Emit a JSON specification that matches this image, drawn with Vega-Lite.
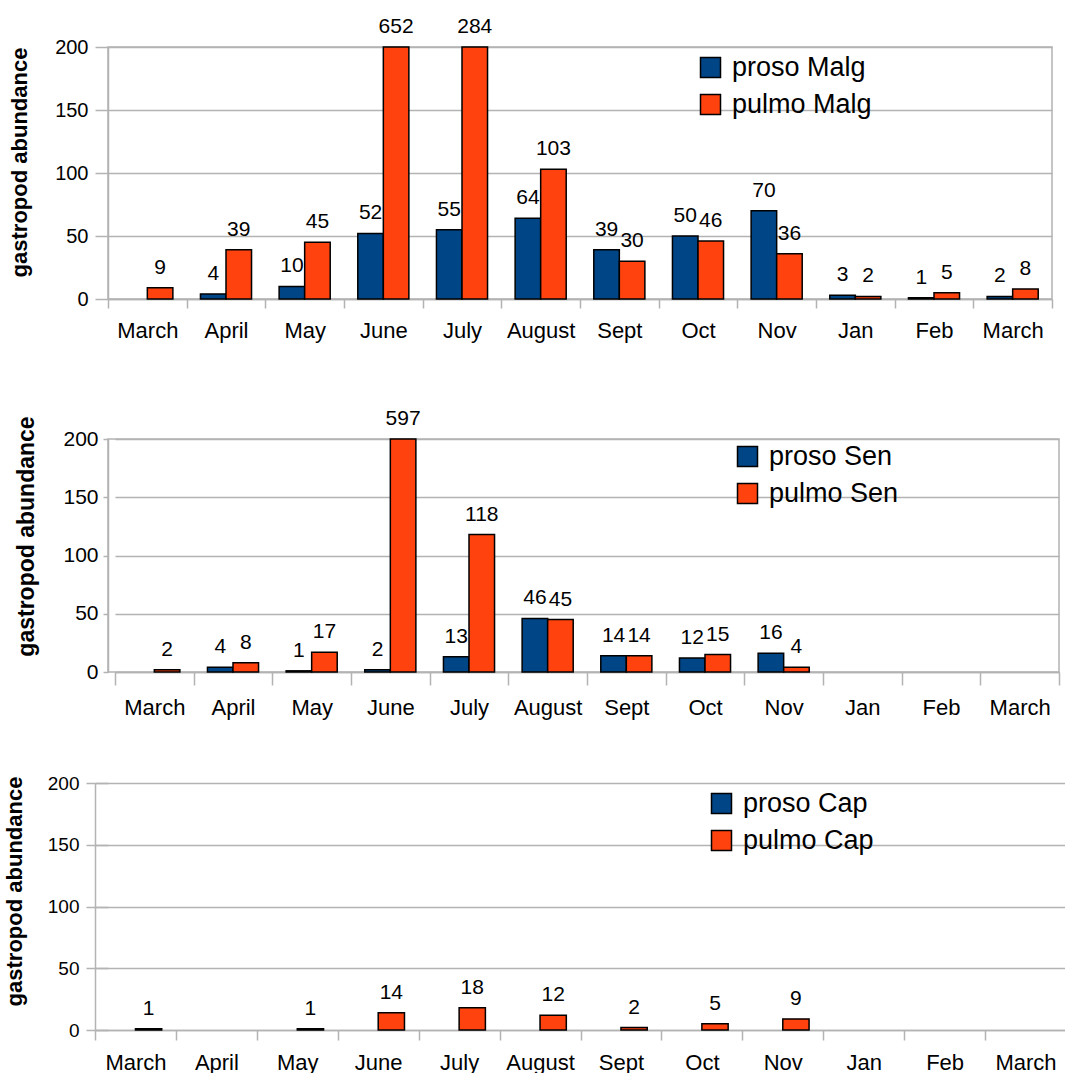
{
  "$schema": "https://vega.github.io/schema/vega-lite/v6.json",
  "background": "white",
  "padding": {"left": 2, "top": 15, "right": 0, "bottom": 0},
  "config": {
    "font": "Liberation Sans",
    "view": {"stroke": "#b3b3b3", "strokeWidth": 1.5},
    "axis": {
      "labelFont": "Liberation Sans",
      "labelColor": "black",
      "titleColor": "black",
      "domainColor": "#b3b3b3",
      "domainWidth": 1.5,
      "tickColor": "#b3b3b3",
      "tickWidth": 1.5,
      "gridColor": "#b3b3b3",
      "gridWidth": 1.5
    },
    "legend": {
      "orient": "none",
      "title": null,
      "padding": 0,
      "symbolType": "square",
      "symbolSize": 400,
      "symbolStrokeColor": "black",
      "symbolStrokeWidth": 1.5,
      "symbolOpacity": 1,
      "labelFontSize": 27,
      "labelFont": "Liberation Sans",
      "labelColor": "black",
      "labelOffset": 8,
      "rowPadding": 9
    }
  },
  "data": {
    "values": [
      {"p": "Malg", "m": "April", "s": "proso Malg", "v": 4},
      {"p": "Malg", "m": "May", "s": "proso Malg", "v": 10},
      {"p": "Malg", "m": "June", "s": "proso Malg", "v": 52},
      {"p": "Malg", "m": "July", "s": "proso Malg", "v": 55},
      {"p": "Malg", "m": "August", "s": "proso Malg", "v": 64},
      {"p": "Malg", "m": "Sept", "s": "proso Malg", "v": 39},
      {"p": "Malg", "m": "Oct", "s": "proso Malg", "v": 50},
      {"p": "Malg", "m": "Nov", "s": "proso Malg", "v": 70},
      {"p": "Malg", "m": "Jan", "s": "proso Malg", "v": 3},
      {"p": "Malg", "m": "Feb", "s": "proso Malg", "v": 1},
      {"p": "Malg", "m": "March ", "s": "proso Malg", "v": 2},
      {"p": "Malg", "m": "March", "s": "pulmo Malg", "v": 9},
      {"p": "Malg", "m": "April", "s": "pulmo Malg", "v": 39},
      {"p": "Malg", "m": "May", "s": "pulmo Malg", "v": 45},
      {"p": "Malg", "m": "June", "s": "pulmo Malg", "v": 652},
      {"p": "Malg", "m": "July", "s": "pulmo Malg", "v": 284},
      {"p": "Malg", "m": "August", "s": "pulmo Malg", "v": 103},
      {"p": "Malg", "m": "Sept", "s": "pulmo Malg", "v": 30},
      {"p": "Malg", "m": "Oct", "s": "pulmo Malg", "v": 46},
      {"p": "Malg", "m": "Nov", "s": "pulmo Malg", "v": 36},
      {"p": "Malg", "m": "Jan", "s": "pulmo Malg", "v": 2},
      {"p": "Malg", "m": "Feb", "s": "pulmo Malg", "v": 5},
      {"p": "Malg", "m": "March ", "s": "pulmo Malg", "v": 8},
      {"p": "Sen", "m": "April", "s": "proso Sen", "v": 4},
      {"p": "Sen", "m": "May", "s": "proso Sen", "v": 1},
      {"p": "Sen", "m": "June", "s": "proso Sen", "v": 2},
      {"p": "Sen", "m": "July", "s": "proso Sen", "v": 13},
      {"p": "Sen", "m": "August", "s": "proso Sen", "v": 46},
      {"p": "Sen", "m": "Sept", "s": "proso Sen", "v": 14},
      {"p": "Sen", "m": "Oct", "s": "proso Sen", "v": 12},
      {"p": "Sen", "m": "Nov", "s": "proso Sen", "v": 16},
      {"p": "Sen", "m": "March", "s": "pulmo Sen", "v": 2},
      {"p": "Sen", "m": "April", "s": "pulmo Sen", "v": 8},
      {"p": "Sen", "m": "May", "s": "pulmo Sen", "v": 17},
      {"p": "Sen", "m": "June", "s": "pulmo Sen", "v": 597},
      {"p": "Sen", "m": "July", "s": "pulmo Sen", "v": 118},
      {"p": "Sen", "m": "August", "s": "pulmo Sen", "v": 45},
      {"p": "Sen", "m": "Sept", "s": "pulmo Sen", "v": 14},
      {"p": "Sen", "m": "Oct", "s": "pulmo Sen", "v": 15},
      {"p": "Sen", "m": "Nov", "s": "pulmo Sen", "v": 4},
      {"p": "Cap", "m": "March", "s": "pulmo Cap", "v": 1},
      {"p": "Cap", "m": "May", "s": "pulmo Cap", "v": 1},
      {"p": "Cap", "m": "June", "s": "pulmo Cap", "v": 14},
      {"p": "Cap", "m": "July", "s": "pulmo Cap", "v": 18},
      {"p": "Cap", "m": "August", "s": "pulmo Cap", "v": 12},
      {"p": "Cap", "m": "Sept", "s": "pulmo Cap", "v": 2},
      {"p": "Cap", "m": "Oct", "s": "pulmo Cap", "v": 5},
      {"p": "Cap", "m": "Nov", "s": "pulmo Cap", "v": 9}
    ]
  },
  "columns": 1,
  "spacing": 55,
  "resolve": {
    "scale": {"x": "independent", "y": "independent", "color": "independent", "xOffset": "independent"},
    "axis": {"x": "independent", "y": "independent"},
    "legend": {"color": "independent"}
  },
  "concat": [
    {
      "columns": 1,
      "spacing": 65,
      "resolve": {
        "scale": {"x": "independent", "y": "independent", "color": "independent", "xOffset": "independent"},
        "axis": {"x": "independent", "y": "independent"},
        "legend": {"color": "independent"}
      },
      "concat": [
        {
          "width": 944,
          "height": 252,
          "transform": [{"filter": "datum.p == 'Malg'"}],
          "encoding": {
            "x": {
              "field": "m", "type": "nominal", "title": null,
              "scale": {"domain": ["March", "April", "May", "June", "July", "August", "Sept", "Oct", "Nov", "Jan", "Feb", "March "], "paddingInner": 0, "paddingOuter": 0},
              "axis": {"labelExpr": "trim(datum.label)", "labelAngle": 0, "labelFontSize": 22, "tickBand": "extent", "tickSize": 9, "labelPadding": 12, "grid": false}
            },
            "xOffset": {"field": "s", "type": "nominal", "scale": {"domain": ["proso Malg", "pulmo Malg"], "paddingInner": 0, "paddingOuter": 0.54}},
            "y": {
              "field": "v", "type": "quantitative", "title": "gastropod abundance",
              "scale": {"domain": [0, 200], "clamp": true, "nice": false},
              "axis": {"values": [0, 50, 100, 150, 200], "labelFontSize": 20, "tickSize": 13, "labelPadding": 7, "titleFontSize": 22, "titleFont": "Liberation Sans", "titleFontWeight": "bold", "titleX": -77, "titleY": 115}
            }
          },
          "layer": [
            {
              "mark": {"type": "bar", "stroke": "black", "strokeWidth": 1.5},
              "encoding": {
                "color": {"field": "s", "type": "nominal", "scale": {"domain": ["proso Malg", "pulmo Malg"], "range": ["#004586", "#ff420e"]}, "legend": {"legendX": 589, "legendY": 7}}
              }
            },
            {
              "mark": {"type": "text", "fontSize": 21, "baseline": "alphabetic", "dy": -14, "color": "black"},
              "encoding": {"text": {"field": "v", "type": "quantitative"}}
            }
          ]
        },
        {
          "width": 951,
          "height": 233,
          "transform": [{"filter": "datum.p == 'Sen'"}],
          "encoding": {
            "x": {
              "field": "m", "type": "nominal", "title": null,
              "scale": {"domain": ["March", "April", "May", "June", "July", "August", "Sept", "Oct", "Nov", "Jan", "Feb", "March "], "paddingInner": 0, "paddingOuter": 0, "range": [7, 951]},
              "axis": {"labelExpr": "trim(datum.label)", "labelAngle": 0, "labelFontSize": 22, "tickBand": "extent", "tickSize": 13, "labelPadding": 12, "grid": false}
            },
            "xOffset": {"field": "s", "type": "nominal", "scale": {"domain": ["proso Sen", "pulmo Sen"], "paddingInner": 0, "paddingOuter": 0.54}},
            "y": {
              "field": "v", "type": "quantitative", "title": "gastropod abundance",
              "scale": {"domain": [0, 200], "clamp": true, "nice": false},
              "axis": {"values": [0, 50, 100, 150, 200], "domain": true, "labelFontSize": 21, "tickSize": 5, "labelPadding": 5, "titleFontSize": 23, "titleFont": "Liberation Sans", "titleFontWeight": "bold", "titleX": -70, "titleY": 97}
            }
          },
          "layer": [
            {
              "mark": {"type": "bar", "stroke": "black", "strokeWidth": 1.5},
              "encoding": {
                "color": {"field": "s", "type": "nominal", "scale": {"domain": ["proso Sen", "pulmo Sen"], "range": ["#004586", "#ff420e"]}, "legend": {"legendX": 626, "legendY": 4}}
              }
            },
            {
              "mark": {"type": "text", "fontSize": 21, "baseline": "alphabetic", "dy": -14, "color": "black"},
              "encoding": {"text": {"field": "v", "type": "quantitative"}}
            }
          ]
        }
      ]
    },
    {
      "width": 958,
      "height": 247,
      "view": {"stroke": null},
      "transform": [{"filter": "datum.p == 'Cap'"}],
      "encoding": {
        "x": {
          "field": "m", "type": "nominal", "title": null,
          "scale": {"domain": ["March", "April", "May", "June", "July", "August", "Sept", "Oct", "Nov", "Jan", "Feb", "March "], "paddingInner": 0, "paddingOuter": 0, "range": [-13, 958]},
          "axis": {"labelExpr": "trim(datum.label)", "labelAngle": 0, "labelFontSize": 22, "tickBand": "extent", "tickSize": 10, "labelPadding": 12, "grid": false}
        },
        "xOffset": {"field": "s", "type": "nominal", "scale": {"domain": ["proso Cap", "pulmo Cap"], "paddingInner": 0, "paddingOuter": 0.54}}
      },
      "resolve": {"scale": {"y": "independent"}, "axis": {"y": "independent"}},
      "layer": [
        {
          "mark": {"type": "bar", "stroke": "black", "strokeWidth": 1.5},
          "encoding": {
            "y": {
              "field": "v", "type": "quantitative", "title": "gastropod abundance",
              "scale": {"domain": [0, 200], "clamp": true, "nice": false},
              "axis": {"orient": "left", "offset": 13, "values": [0, 50, 100, 150, 200], "domain": true, "labelFontSize": 19, "tickSize": 9, "labelPadding": 7, "titleFontSize": 22, "titleFont": "Liberation Sans", "titleFontWeight": "bold", "titleX": -69, "titleY": 108}
            },
            "color": {"field": "s", "type": "nominal", "scale": {"domain": ["proso Cap", "pulmo Cap"], "range": ["#004586", "#ff420e"]}, "legend": {"legendX": 600, "legendY": 7}}
          }
        },
        {
          "mark": {"type": "text", "fontSize": 21, "baseline": "alphabetic", "dy": -14, "color": "black"},
          "encoding": {
            "y": {
              "field": "v", "type": "quantitative", "title": null,
              "scale": {"domain": [0, 200], "clamp": true, "nice": false},
              "axis": {"orient": "left", "offset": 0, "values": [0, 50, 100, 150, 200], "domain": false, "ticks": true, "tickSize": 13, "labels": false, "grid": false, "title": null}
            },
            "text": {"field": "v", "type": "quantitative"}
          }
        }
      ]
    }
  ]
}
